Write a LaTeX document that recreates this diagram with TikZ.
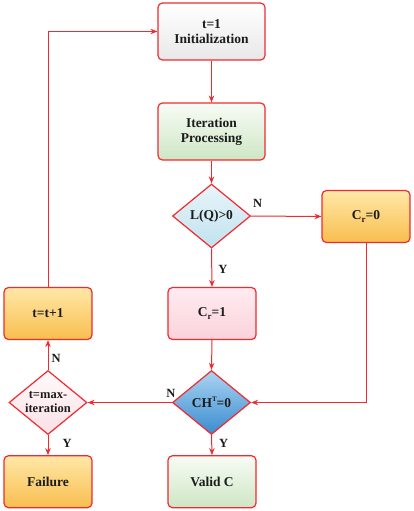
\documentclass[tikz,border=0pt]{standalone}
\usepackage{fontspec}
\setmainfont{Liberation Serif}
\usetikzlibrary{shapes.geometric,arrows.meta}
\definecolor{bred}{HTML}{F02A30}
\definecolor{txt}{HTML}{1C1C1C}
\begin{document}
\begin{tikzpicture}[x=1pt,y=-1pt,
  base/.style={draw=bred, line width=1.2pt, align=center, text=txt,
    font=\fontsize{13.5}{15}\selectfont\bfseries},
  box/.style={base, rounded corners=4.5pt, minimum width=88pt, minimum height=52pt, inner sep=2pt},
  bigbox/.style={box, minimum width=107pt, minimum height=57pt},
  dia/.style={base, diamond, aspect=1.22, inner sep=0pt, minimum width=78pt, minimum height=64pt},
  arr/.style={draw=bred, line width=1pt, -{Stealth[length=7pt,width=5.5pt]}},
  lbl/.style={font=\fontsize{12.5}{12.5}\selectfont\bfseries, text=txt, inner sep=0pt},
  fgray/.style={top color=white, bottom color=black!9},
  fgreen/.style={top color=green!40!olive!4!white, bottom color={rgb,255:red,206;green,230;blue,197}},
  forange/.style={top color={rgb,255:red,255;green,232;blue,168}, bottom color={rgb,255:red,248;green,190;blue,78}},
  fpink/.style={top color={rgb,255:red,255;green,236;blue,240}, bottom color={rgb,255:red,251;green,210;blue,219}},
  flblue/.style={top color={rgb,255:red,232;green,245;blue,250}, bottom color={rgb,255:red,192;green,226;blue,238}},
  fblue/.style={top color={rgb,255:red,170;green,212;blue,242}, bottom color={rgb,255:red,58;green,140;blue,208}},
  fwpink/.style={top color={rgb,255:red,255;green,250;blue,251}, bottom color={rgb,255:red,251;green,224;blue,230}}
]
\useasboundingbox (0,0) rectangle (413,511);

\node[bigbox, fgray]  (init)  at (211.5,31.5)  {t=1\\Initialization};
\node[bigbox, fgreen] (iter)  at (211.5,131.5) {Iteration\\Processing};
\node[dia, flblue]    (lq)    at (211.5,216)   {L(Q)\textgreater0};
\node[box, forange]   (cr0)   at (366,216.5)   {C\raisebox{-0.35ex}{\fontsize{9}{9}\selectfont r}=0};
\node[box, fpink]     (cr1)   at (212,313.5)   {C\raisebox{-0.35ex}{\fontsize{9}{9}\selectfont r}=1};
\node[box, forange]   (tinc)  at (48,313.5)    {t=t+1};
\node[dia, fblue]     (ch)    at (211.5,402.5) {CH\raisebox{0.9ex}{\fontsize{7}{7}\selectfont T}=0};
\node[dia, fwpink, font=\fontsize{12.5}{14}\selectfont\bfseries] (tmax) at (48,402.5) {t=max-\\iteration};
\node[box, forange]   (fail)  at (48,481.7)    {Failure};
\node[box, fgreen]    (valid) at (212,481.7)   {Valid C};

\draw[arr] (init) -- (iter);
\draw[arr] (iter) -- (lq);
\draw[arr] (lq.east) -- node[lbl, at start, anchor=south west, xshift=1.5pt, yshift=8pt] {N} (cr0.west);
\draw[arr] (lq.south) -- node[lbl, pos=0.55, right=6pt] {Y} (cr1.north);
\draw[arr] (cr1.south) -- (ch.north);
\draw[arr] (cr0.south) |- (ch.east);
\draw[arr] (ch.west) -- node[lbl, at start, anchor=south, xshift=-1pt, yshift=5pt] {N} (tmax.east);
\draw[arr] (ch.south) -- node[lbl, pos=0.4, right=7pt] {Y} (valid.north);
\draw[arr] (tmax.south) -- node[lbl, pos=0.4, right=14pt] {Y} (fail.north);
\draw[arr] (tmax.north) -- node[lbl, pos=0.4, right=3pt] {N} (tinc.south);
\draw[arr] (tinc.north) |- (init.west);
\end{tikzpicture}
\end{document}
